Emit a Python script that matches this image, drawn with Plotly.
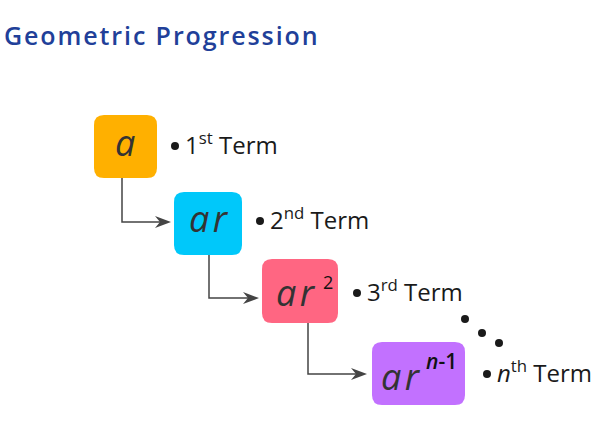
import plotly.graph_objects as go

# ---- data ----
terms = ["a", "ar", "ar", "ar"]
term_powers = ["", "", "2", "<i>n</i>-1"]
ordinal_numbers = ["1", "2", "3", "<i>n</i>"]
ordinal_suffixes = ["st", "nd", "rd", "th"]
box_colors = ["#FFB000", "#00C8FA", "#FF6682", "#C271FF"]
title_text = "Geometric Progression"

# ---- layout geometry (pixel-like units) ----
box_x0 = [94, 174, 262, 372]
box_x1 = [157, 242, 338, 465]
box_y0 = [115, 192, 259, 342]
box_y1 = [178, 255, 323, 405]
label_x = [125, 208, 295, 400]
label_y = [146, 222, 296, 380]
sup_x = [None, None, 328, 441]
sup_y = [None, None, 282, 361]
bullet_x = [175, 260, 357, 487]
bullet_y = [146, 221, 293, 374]
conn_x = [122, 209, 308]
conn_turn_y = [222, 298, 374]
conn_end_x = [171, 259, 367]
dots_x = [465, 482, 499]
dots_y = [319, 333, 343]

W, H = 603, 423
fig = go.Figure()

def rounded_rect(x0, y0, x1, y1, r):
    return (f"M {x0+r},{y0} L {x1-r},{y0} Q {x1},{y0} {x1},{y0+r} "
            f"L {x1},{y1-r} Q {x1},{y1} {x1-r},{y1} L {x0+r},{y1} "
            f"Q {x0},{y1} {x0},{y1-r} L {x0},{y0+r} Q {x0},{y0} {x0+r},{y0} Z")

shapes = []
for i in range(4):
    shapes.append(dict(type="path", path=rounded_rect(box_x0[i], box_y0[i], box_x1[i], box_y1[i], 10),
                       fillcolor=box_colors[i], line=dict(width=0), layer="below"))

line_col = "#444444"
for i in range(3):
    x = conn_x[i]
    y0 = box_y1[i]
    ty = conn_turn_y[i]
    ex = conn_end_x[i]
    shapes.append(dict(type="path", path=f"M {x},{y0} L {x},{ty} L {ex-6},{ty}",
                       line=dict(color=line_col, width=1.5)))
    shapes.append(dict(type="path",
                       path=f"M {ex},{ty} L {ex-16},{ty-6} L {ex-11},{ty} L {ex-16},{ty+6} Z",
                       fillcolor=line_col, line=dict(width=0)))

annotations = []
annotations.append(dict(x=2, y=35, xref="x", yref="y",
                        text=f'<span style="letter-spacing:1.9px">{title_text}</span>',
                        showarrow=False, xanchor="left", yanchor="middle",
                        font=dict(family="Open Sans", size=25, color="#213F99", weight=600)))

for i in range(4):
    spacing = 3.5 if len(terms[i]) > 1 else 0
    annotations.append(dict(x=label_x[i] + spacing / 2, y=label_y[i] - 4,
                            text=f'<span style="letter-spacing:{spacing}px"><i>{terms[i]}</i></span>',
                            showarrow=False, xanchor="center", yanchor="middle",
                            font=dict(family="Open Sans", size=36, color="#333333", weight=500)))
    if term_powers[i]:
        annotations.append(dict(x=sup_x[i], y=sup_y[i], text=term_powers[i], showarrow=False,
                                xanchor="center", yanchor="middle",
                                font=dict(family="Open Sans", size=18 if i == 2 else 21,
                                          color="#111111", weight=400 if i == 2 else 600)))
    annotations.append(dict(x=bullet_x[i] + 8, y=bullet_y[i] - 3,
                            text=f"{ordinal_numbers[i]}<sup>{ordinal_suffixes[i]}</sup> Term",
                            showarrow=False, xanchor="left", yanchor="middle",
                            font=dict(family="Open Sans", size=24, color="#1a1a1a")))

fig.add_trace(go.Scatter(x=bullet_x + dots_x, y=bullet_y + dots_y, mode="markers",
                         marker=dict(size=8, color="#1a1a1a"), hoverinfo="skip", showlegend=False))

fig.update_layout(
    width=W, height=H, margin=dict(l=0, r=0, t=0, b=0),
    paper_bgcolor="white", plot_bgcolor="white",
    xaxis=dict(range=[0, W], visible=False, fixedrange=True),
    yaxis=dict(range=[H, 0], visible=False, fixedrange=True),
    shapes=shapes, annotations=annotations, showlegend=False,
)
fig.write_html("out.html", config={"displayModeBar": False},
               post_script="document.body.style.margin='0';document.body.style.overflow='hidden';")
